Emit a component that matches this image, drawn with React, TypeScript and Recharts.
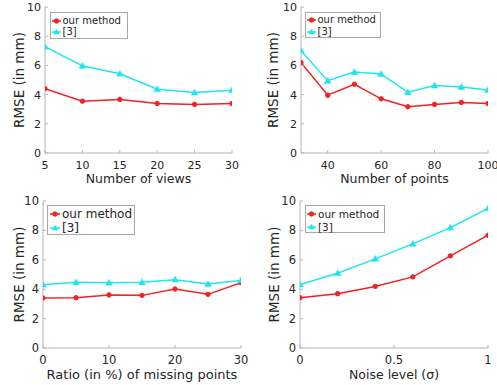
import React from 'react';
import { LineChart, Line, XAxis, YAxis, Legend, Label } from 'recharts';

// ---- data ----
const viewsX = [5, 10, 15, 20, 25, 30];
const viewsOurs = [4.41, 3.55, 3.67, 3.39, 3.33, 3.39];
const viewsRef = [7.28, 5.97, 5.43, 4.37, 4.14, 4.3];

const pointsX = [30, 40, 50, 60, 70, 80, 90, 100];
const pointsOurs = [6.2, 3.96, 4.71, 3.71, 3.17, 3.33, 3.46, 3.39];
const pointsRef = [7.01, 4.95, 5.54, 5.41, 4.16, 4.62, 4.52, 4.32];

const missingX = [0, 5, 10, 15, 20, 25, 30];
const missingOurs = [3.4, 3.42, 3.61, 3.58, 4.01, 3.65, 4.44];
const missingRef = [4.31, 4.47, 4.44, 4.47, 4.65, 4.35, 4.6];

const noiseX = [0, 0.2, 0.4, 0.6, 0.8, 1];
const noiseOurs = [3.42, 3.69, 4.19, 4.84, 6.27, 7.67];
const noiseRef = [4.32, 5.09, 6.06, 7.08, 8.19, 9.5];

const rmseTicks = [0, 2, 4, 6, 8, 10];
const viewsTicks = [5, 10, 15, 20, 25, 30];
const pointsTicks = [40, 60, 80, 100];
const missingTicks = [0, 10, 20, 30];
const noiseTicks = [0, 0.5, 1];

const seriesNames = ['our method', '[3]'];
const yLabel = 'RMSE (in mm)';
const xLabels = ['Number of views', 'Number of points', 'Ratio (in %) of missing points', 'Noise level (σ)'];

// ---- styles ----
const RED = '#f52020';
const CYAN = '#1fe6ee';
const BOX = '#b5b5b5';
const TXT = '#262626';
const FONT = 'DejaVu Sans';

const build = (xs: number[], a: number[], b: number[]) =>
  xs.map((x, i) => ({ x, ours: a[i], ref: b[i] }));

const Tri = (props: any) => {
  const { cx, cy, index } = props;
  if (cx == null || cy == null) return <g key={`t${index}`} />;
  return (
    <polygon
      key={`t${index}`}
      points={`${cx},${cy - 3.3} ${cx - 3.3},${cy + 2.4} ${cx + 3.3},${cy + 2.4}`}
      fill={CYAN}
      stroke={CYAN}
      strokeWidth={0.6}
    />
  );
};

type LegendGeo = { x: number; y: number; w: number; h: number; r1: number; r2: number; m0: number; m1: number; tx: number; fs: number };

const makeLegend = (g: LegendGeo) => () => (
  <div
    style={{
      position: 'relative',
      width: g.w,
      height: g.h,
      border: `1px solid #a8a8a8`,
      background: '#fff',
      boxSizing: 'border-box',
      fontFamily: FONT,
      fontSize: g.fs,
      color: TXT,
    }}
  >
    {[0, 1].map((i) => {
      const cy = i === 0 ? g.r1 : g.r2;
      const col = i === 0 ? RED : CYAN;
      const mw = g.m1 - g.m0;
      return (
        <React.Fragment key={i}>
          <svg
            width={mw}
            height={8}
            style={{ position: 'absolute', left: g.m0 - 1, top: cy - 1 - 4 }}
          >
            <line x1={0} x2={mw} y1={4} y2={4} stroke={col} strokeWidth={1.5} />
            {i === 0 ? (
              <circle cx={mw / 2} cy={4} r={2.2} fill={RED} stroke={RED} />
            ) : (
              <polygon
                points={`${mw / 2},${4 - 3.2} ${mw / 2 - 3.2},${4 + 2.3} ${mw / 2 + 3.2},${4 + 2.3}`}
                fill={CYAN}
              />
            )}
          </svg>
          <span
            style={{
              position: 'absolute',
              left: g.tx - 1,
              top: cy - 1,
              transform: 'translateY(-50%)',
              lineHeight: 1,
              whiteSpace: 'nowrap',
            }}
          >
            {seriesNames[i]}
          </span>
        </React.Fragment>
      );
    })}
  </div>
);

const makeYLabel = (cx: number, fs: number, cyFallback: number) => (props: any) => {
  const vb = props && props.viewBox;
  const cy = vb && typeof vb.y === 'number' ? vb.y + vb.height / 2 : cyFallback;
  return (
    <text
      x={cx}
      y={cy}
      transform={`rotate(-90 ${cx} ${cy})`}
      textAnchor="middle"
      dominantBaseline="central"
      fill={TXT}
      fontSize={fs}
      fontFamily={FONT}
    >
      {yLabel}
    </text>
  );
};

type PanelProps = {
  left: number;
  top: number;
  width: number;
  height: number;
  data: { x: number; ours: number; ref: number }[];
  xDomain: [number, number];
  xTicks: number[];
  xLabel: string;
  yWidth: number;
  mTop: number;
  mRight: number;
  xHeight: number;
  tickFs: number;
  labelFs: number;
  yLabelFs: number;
  yLabelX: number;
  xLabelOffset: number;
  legend: LegendGeo;
};

const Panel = (p: PanelProps) => {
  const tickStyle = { fill: TXT, fontSize: p.tickFs, fontFamily: FONT };
  const plotH = p.height - p.mTop - p.xHeight;
  return (
    <div style={{ position: 'absolute', left: p.left, top: p.top }}>
      <LineChart
        width={p.width}
        height={p.height}
        data={p.data}
        margin={{ top: p.mTop, right: p.mRight, left: 0, bottom: 0 }}
      >
        <XAxis
          dataKey="x"
          type="number"
          domain={p.xDomain}
          ticks={p.xTicks}
          interval={0}
          height={p.xHeight}
          tickSize={-3}
          tickMargin={11}
          axisLine={{ stroke: BOX }}
          tickLine={{ stroke: BOX }}
          tick={tickStyle}
          allowDataOverflow
        >
          <Label
            value={p.xLabel}
            position="insideBottom"
            offset={p.xLabelOffset}
            fill={TXT}
            fontSize={p.labelFs}
            fontFamily={FONT}
          />
        </XAxis>
        <XAxis
          xAxisId="top"
          orientation="top"
          type="number"
          domain={p.xDomain}
          ticks={p.xTicks}
          interval={0}
          height={0}
          tickSize={-3}
          tick={false}
          axisLine={{ stroke: BOX }}
          tickLine={{ stroke: BOX }}
          allowDataOverflow
        />
        <YAxis
          type="number"
          domain={[0, 10]}
          ticks={rmseTicks}
          interval={0}
          width={p.yWidth}
          tickSize={-3}
          tickMargin={7}
          axisLine={{ stroke: BOX }}
          tickLine={{ stroke: BOX }}
          tick={tickStyle}
          allowDataOverflow
        >
          <Label content={makeYLabel(p.yLabelX, p.yLabelFs, p.mTop + plotH / 2)} />
        </YAxis>
        <YAxis
          yAxisId="right"
          orientation="right"
          type="number"
          domain={[0, 10]}
          ticks={rmseTicks}
          interval={0}
          width={0}
          tickSize={-3}
          tick={false}
          axisLine={{ stroke: BOX }}
          tickLine={{ stroke: BOX }}
          allowDataOverflow
        />
        <Line
          dataKey="ours"
          name={seriesNames[0]}
          stroke={RED}
          strokeWidth={1.5}
          dot={{ r: 2.2, fill: RED, stroke: RED, strokeWidth: 1 }}
          activeDot={false}
          isAnimationActive={false}
        />
        <Line
          dataKey="ref"
          name={seriesNames[1]}
          stroke={CYAN}
          strokeWidth={1.5}
          dot={Tri}
          activeDot={false}
          isAnimationActive={false}
        />
        <Legend
          layout="vertical"
          align="center"
          verticalAlign="middle"
          width={p.legend.w}
          height={p.legend.h}
          wrapperStyle={{ left: p.legend.x, top: p.legend.y, width: p.legend.w, height: p.legend.h }}
          content={makeLegend(p.legend)}
        />
      </LineChart>
    </div>
  );
};

export default function App() {
  return (
    <div style={{ position: 'absolute', left: 0, top: 0, width: 497, height: 385, background: '#fff' }}>
      <Panel
        left={0}
        top={0}
        width={248}
        height={190}
        data={build(viewsX, viewsOurs, viewsRef)}
        xDomain={[5, 30]}
        xTicks={viewsTicks}
        xLabel={xLabels[0]}
        yWidth={45}
        mTop={7}
        mRight={16}
        xHeight={37}
        tickFs={11}
        labelFs={12.5}
        yLabelFs={13.5}
        yLabelX={19}
        xLabelOffset={7}
        legend={{ x: 50, y: 12, w: 78, h: 27, r1: 8.5, r2: 20, m0: 2, m1: 11, tx: 12.5, fs: 10 }}
      />
      <Panel
        left={248}
        top={0}
        width={249}
        height={190}
        data={build(pointsX, pointsOurs, pointsRef)}
        xDomain={[30, 100]}
        xTicks={pointsTicks}
        xLabel={xLabels[1]}
        yWidth={53}
        mTop={7}
        mRight={9}
        xHeight={37}
        tickFs={11}
        labelFs={12.5}
        yLabelFs={13.5}
        yLabelX={25}
        xLabelOffset={7}
        legend={{ x: 57, y: 12, w: 76, h: 26, r1: 7.5, r2: 20, m0: 2, m1: 11, tx: 12.5, fs: 10 }}
      />
      <Panel
        left={0}
        top={190}
        width={248}
        height={195}
        data={build(missingX, missingOurs, missingRef)}
        xDomain={[0, 30]}
        xTicks={missingTicks}
        xLabel={xLabels[2]}
        yWidth={43}
        mTop={11}
        mRight={7}
        xHeight={37}
        tickFs={11.5}
        labelFs={13}
        yLabelFs={13.5}
        yLabelX={19}
        xLabelOffset={6}
        legend={{ x: 47, y: 15, w: 88, h: 30, r1: 9.3, r2: 22.7, m0: 3, m1: 13, tx: 15, fs: 12 }}
      />
      <Panel
        left={248}
        top={190}
        width={249}
        height={195}
        data={build(noiseX, noiseOurs, noiseRef)}
        xDomain={[0, 1]}
        xTicks={noiseTicks}
        xLabel={xLabels[3]}
        yWidth={52}
        mTop={11}
        mRight={9}
        xHeight={37}
        tickFs={11.5}
        labelFs={12.5}
        yLabelFs={13.5}
        yLabelX={26}
        xLabelOffset={6}
        legend={{ x: 57, y: 15, w: 80, h: 28, r1: 9, r2: 21.7, m0: 2, m1: 11, tx: 13, fs: 10.5 }}
      />
    </div>
  );
}
